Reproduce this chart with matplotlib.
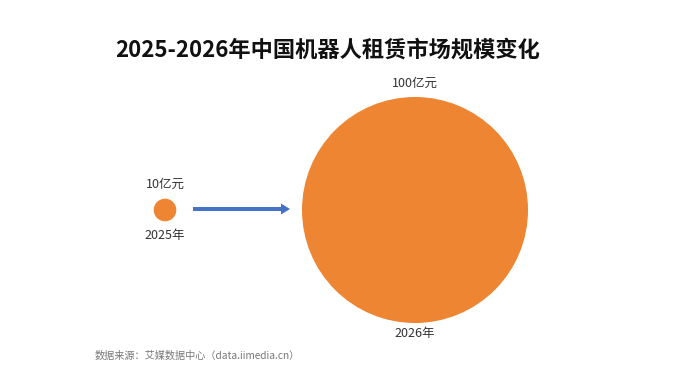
import matplotlib
matplotlib.use("Agg")
import matplotlib.pyplot as plt
from matplotlib.patches import Circle, FancyArrow

plt.rcParams['font.family'] = ['Noto Sans CJK SC', 'DejaVu Sans']

years = ['2025年', '2026年']
values = [10, 100]
value_labels = ['10亿元', '100亿元']
title = '2025-2026年中国机器人租赁市场规模变化'
source = '数据来源：艾媒数据中心（data.iimedia.cn）'

# layout in pixel coords
centers_x = [165, 415]
center_y = 210
px_per_unit = 1.13
orange = '#EE8533'
blue = '#4472C4'

fig = plt.figure(figsize=(6.8, 3.8), dpi=100)
ax = fig.add_axes([0, 0, 1, 1])
ax.set_xlim(0, 680)
ax.set_ylim(380, 0)
ax.set_aspect('equal')
ax.axis('off')

ax.text(328, 50, title, ha='center', va='center', fontsize=16, fontweight='bold', color='#111111')

label_off = [(14, 14), (14, 11)]
for cx, v, lab, yr, (up, down) in zip(centers_x, values, value_labels, years, label_off):
    r = v * px_per_unit
    ax.add_patch(Circle((cx, center_y), r, color=orange, lw=0))
    ax.text(cx, center_y - r - up, lab, ha='center', va='center', fontsize=9, color='#333333')
    ax.text(cx, center_y + r + down, yr, ha='center', va='center', fontsize=9, color='#333333')

ax.add_patch(FancyArrow(193, 209, 88, 0, width=4, head_width=11, head_length=9,
                        length_includes_head=False, color=blue, lw=0))

ax.text(95, 356, source, ha='left', va='center', fontsize=7.3, color='#777777')

fig.savefig('out.png', dpi=100)
